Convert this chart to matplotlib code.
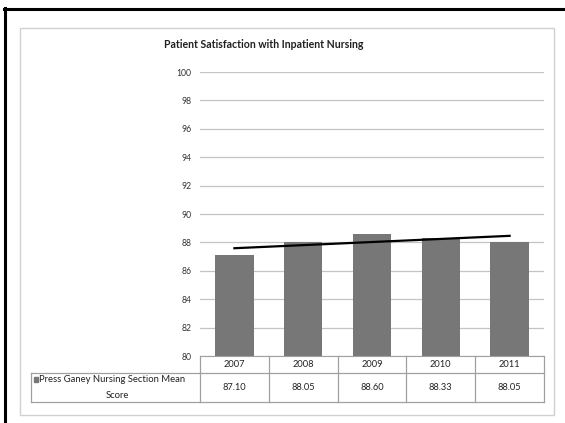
import matplotlib
matplotlib.use("Agg")
import matplotlib.pyplot as plt
import numpy as np
from matplotlib.lines import Line2D
from matplotlib.patches import Rectangle

plt.rcParams['font.family'] = ['Lato', 'DejaVu Sans']

years = ['2007', '2008', '2009', '2010', '2011']
scores = [87.10, 88.05, 88.60, 88.33, 88.05]
series_label = ['Press Ganey Nursing Section Mean', 'Score']
title = 'Patient Satisfaction with Inpatient Nursing'
yticks = list(range(80, 101, 2))

W, H = 565, 423
fig = plt.figure(figsize=(W / 100, H / 100), dpi=100)

def fx(px):
    return px / W

def fy(py):
    return 1 - py / H

# outer black frame (top and left only visible) and grey chart border
fig.add_artist(Line2D([fx(4), fx(565)], [fy(9), fy(9)], color='black', lw=2.2))
fig.add_artist(Line2D([fx(5), fx(5)], [fy(8), fy(423)], color='black', lw=2.2))
fig.add_artist(Rectangle((fx(20), fy(415)), fx(554) - fx(20), fy(28) - fy(415),
                         fill=False, edgecolor='#d0d0d0', lw=1.0))

ax = fig.add_axes([fx(200), fy(356), fx(544) - fx(200), fy(72) - fy(356)])
x = np.arange(len(years))
ax.bar(x, scores, width=0.56, color='#777777', zorder=2)

# linear trend line
coef = np.polyfit(x + 1, scores, 1)
trend = np.polyval(coef, x + 1)
ax.plot(x, trend, color='black', lw=1.6, zorder=3)

ax.set_xlim(-0.5, len(years) - 0.5)
ax.set_ylim(80, 100)
ax.set_yticks(yticks)
ax.yaxis.grid(True, color='#c4c4c4', lw=0.9, zorder=0)
ax.tick_params(axis='y', length=0, pad=6, labelsize=6.2, labelcolor='#333333')
ax.set_xticks([])
for s in ['top', 'right', 'left']:
    ax.spines[s].set_visible(False)
ax.spines['bottom'].set_color('#a0a0a0')

# data table below the plot
tc = '#a0a0a0'
txt = '#222222'
r1 = -17 / 284
r2 = -46 / 284
lab_left = (31 - 200) / 344 * len(years) - 0.5
tr = ax.get_xaxis_transform()
for b in np.arange(-0.5, len(years), 1.0):
    ax.add_line(Line2D([b, b], [0, r2], color=tc, lw=0.9, transform=tr, clip_on=False))
for yy in [r1, r2]:
    ax.add_line(Line2D([lab_left, len(years) - 0.5], [yy, yy],
                       color=tc, lw=0.9, transform=tr, clip_on=False))
ax.add_line(Line2D([lab_left, lab_left], [r1, r2], color=tc, lw=0.9, transform=tr, clip_on=False))
for i, (yr, v) in enumerate(zip(years, scores)):
    ax.text(i, r1 / 2, yr, transform=tr, ha='center', va='center', fontsize=6.7, color=txt)
    ax.text(i, (r1 + r2) / 2, f'{v:.2f}', transform=tr, ha='center', va='center',
            fontsize=6.7, color=txt)

# row label with legend key
px = len(years) / 344  # data units per pixel
ax.text(lab_left + 8 * px, r1 - 6 / 284, series_label[0], transform=tr, ha='left', va='center',
        fontsize=6.8, color=txt)
ax.text(lab_left + 86 * px, r1 - 22 / 284, series_label[1], transform=tr, ha='center', va='center',
        fontsize=6.8, color=txt)
ax.add_patch(Rectangle((lab_left + 2.5 * px, r1 - 8.5 / 284), 4.5 * px, 4.5 / 284, transform=tr,
                       color='#777777', clip_on=False))

fig.text(fx(264), fy(44), title, ha='center', va='center', fontsize=7.6,
         fontweight='bold', color='#202020')

fig.savefig('out.png', dpi=100)
